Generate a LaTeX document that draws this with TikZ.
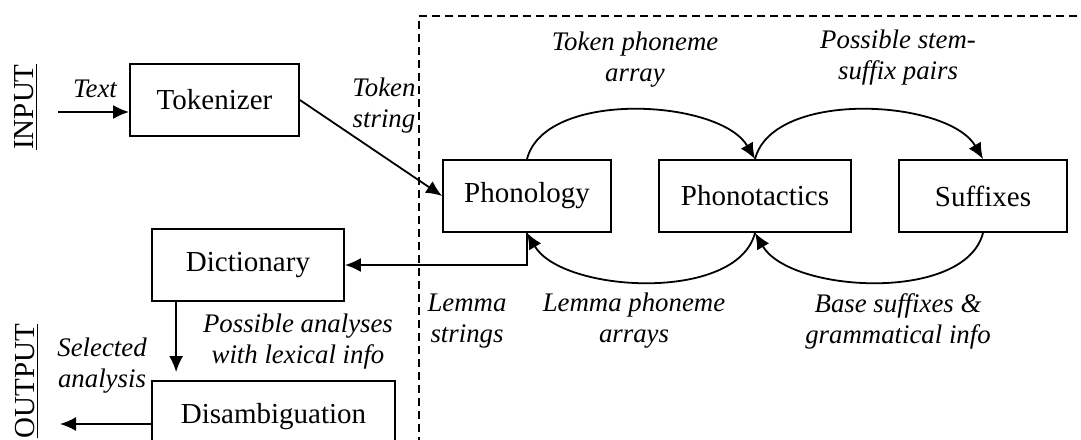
\documentclass[tikz,border=0pt]{standalone}
\usepackage{fontspec}
\setmainfont{Liberation Serif}
\usetikzlibrary{arrows.meta}

\begin{document}
\begin{tikzpicture}[x=0.5pt,y=-0.5pt,
  module/.style={draw,line width=0.9pt,minimum height=36pt,inner sep=0pt,font=\fontsize{14.5}{17}\selectfont},
  flow/.style={line width=0.9pt,-{Latex[length=8pt,width=7pt]}},
  note/.style={align=center,inner sep=0pt,font=\fontsize{13.4}{15.5}\selectfont\itshape},
  side/.style={rotate=90,inner sep=0pt,font=\fontsize{14.5}{17}\selectfont}]

\useasboundingbox (0,0) rectangle (1081,439);

% Analyser region
\draw[line width=0.8pt,dash pattern=on 4pt off 2.5pt] (1090,16) -- (419,16) -- (419,450);

% Modules
\node[module,minimum width=84.5pt] (tok) at (214.5,100) {Tokenizer};
\node[module,minimum width=84pt] (phon) at (527,196) {Phonology};
\node[module,minimum width=96pt] (phtac) at (755,196) {Phonotactics};
\node[module,minimum width=84pt] (suff) at (983,196) {Suffixes};
\node[module,minimum width=96pt] (dict) at (248,265) {Dictionary};
\node[module,minimum width=121.5pt] (disamb) at (273.5,417) {Disambiguation};

% Input and output sides
\node[side] (inp) at (26,107) {\underline{INPUT}};
\node[side] (outp) at (27,381) {\underline{OUTPUT}};
\coordinate (txtin) at (58,112);
\coordinate (outend) at (60,424);

% Forward flow
\draw[flow] (txtin) -- ([yshift=-6pt]tok.west);
\draw[flow] (tok.east) -- (phon.west);
\draw[flow] (phon.north) .. controls +(18,-70) and +(-35,-60) .. (phtac.north);
\draw[flow] (phtac.north) .. controls +(18,-70) and +(-35,-60) .. (suff.north);

% Backward flow
\draw[flow] (suff.south) .. controls +(-18,70) and +(35,60) .. (phtac.south);
\draw[flow] (phtac.south) .. controls +(-18,70) and +(35,60) .. (phon.south);
\draw[flow] (phon.south) |- (dict.east);
\draw[flow,shorten >=4pt] ([xshift=12.5pt]dict.south west) -- ([xshift=12.5pt]disamb.north west);
\draw[flow] ([yshift=-3.5pt]disamb.west) -- (outend);

% Labels
\node[note] (lbltext) at (95,89) {Text};
\node[note] (lbltokstr) at (384,106) {Token\\string};
\node[note] (lbltokph) at (635,60) {Token phoneme\\array};
\node[note] (lblstem) at (898,58) {Possible stem-\\suffix pairs};
\node[note] (lbllemstr) at (467,321) {Lemma\\strings};
\node[note] (lbllemph) at (634,321) {Lemma phoneme\\arrays};
\node[note] (lblbase) at (898,321) {Base suffixes \&\\grammatical info};
\node[note] (lblposs) at (298,342) {Possible analyses\\with lexical info};
\node[note] (lblsel) at (102,366) {Selected\\analysis};

\end{tikzpicture}
\end{document}
